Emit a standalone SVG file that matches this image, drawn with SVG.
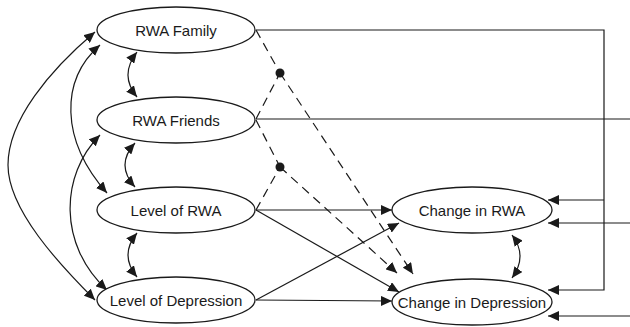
<svg xmlns="http://www.w3.org/2000/svg" width="630" height="327" viewBox="0 0 630 327">
<style>
.node ellipse{fill:#fff;stroke:#1a1a1a;stroke-width:1.3}
.node text{font-family:"Liberation Sans",Arial,sans-serif;font-size:15px;fill:#1a1a1a;text-anchor:middle}
.c path,.c line,.c polyline{fill:none;stroke:#1a1a1a;stroke-width:1.2}
.c .d{stroke-dasharray:9,6}
</style>
<defs>
<marker id="ah" markerUnits="userSpaceOnUse" markerWidth="12" markerHeight="10" refX="11" refY="5" orient="auto-start-reverse" viewBox="0 0 12 10">
<path d="M0,0 L11,5 L0,10 z" fill="#1a1a1a"/>
</marker>
</defs>
<g class="c" id="connectors">
<path d="M95,32 C50,70 8,120 8,165 C8,210 60,265 95,300" marker-start="url(#ah)" marker-end="url(#ah)"/>
<path d="M100,45 C60,80 60,140 107,193" marker-start="url(#ah)" marker-end="url(#ah)"/>
<path d="M100,135 C60,175 58,245 107,290" marker-start="url(#ah)" marker-end="url(#ah)"/>
<path d="M137,52 Q119,75 137,97" marker-start="url(#ah)" marker-end="url(#ah)"/>
<path d="M135,143 Q115,165 135,187" marker-start="url(#ah)" marker-end="url(#ah)"/>
<path d="M137,233 Q119,255 137,277" marker-start="url(#ah)" marker-end="url(#ah)"/>
<path d="M512,235 Q528,256 512,278" marker-start="url(#ah)" marker-end="url(#ah)"/>
<line class="d" x1="256" y1="30" x2="280" y2="73"/>
<line class="d" x1="256" y1="119" x2="280" y2="73"/>
<line class="d" x1="280" y1="73" x2="413" y2="274" marker-end="url(#ah)"/>
<line class="d" x1="256" y1="120" x2="280" y2="167"/>
<line class="d" x1="256" y1="210" x2="280" y2="167"/>
<line class="d" x1="280" y1="167" x2="397" y2="273" marker-end="url(#ah)"/>
<circle cx="280" cy="73" r="4.5" fill="#1a1a1a"/>
<circle cx="280" cy="167" r="4.5" fill="#1a1a1a"/>
<line x1="256" y1="210" x2="392" y2="210" marker-end="url(#ah)"/>
<line x1="256" y1="210" x2="399" y2="292" marker-end="url(#ah)"/>
<line x1="256" y1="300" x2="399" y2="223" marker-end="url(#ah)"/>
<line x1="256" y1="300" x2="392" y2="301" marker-end="url(#ah)"/>
<polyline points="256,30 604,30 604,290 548,290" marker-end="url(#ah)"/>
<line x1="604" y1="200" x2="548" y2="200" marker-end="url(#ah)"/>
<line x1="256" y1="119" x2="630" y2="119"/>
<line x1="630" y1="223" x2="548" y2="223" marker-end="url(#ah)"/>
<line x1="630" y1="316" x2="548" y2="316" marker-end="url(#ah)"/>
</g>
<g class="node" id="rwa-family"><ellipse cx="176" cy="30" rx="79" ry="23"/><text x="176" y="35.5">RWA Family</text></g>
<g class="node" id="rwa-friends"><ellipse cx="176" cy="120" rx="79" ry="23"/><text x="176" y="125.5">RWA Friends</text></g>
<g class="node" id="level-rwa"><ellipse cx="176" cy="210" rx="79" ry="23"/><text x="176" y="215.5">Level of RWA</text></g>
<g class="node" id="level-depression"><ellipse cx="176" cy="300" rx="79" ry="23"/><text x="176" y="305.5">Level of Depression</text></g>
<g class="node" id="change-rwa"><ellipse cx="472" cy="210" rx="80" ry="23"/><text x="472" y="215.5">Change in RWA</text></g>
<g class="node" id="change-depression"><ellipse cx="472" cy="302" rx="80" ry="23"/><text x="472" y="307.5">Change in Depression</text></g>
</svg>
